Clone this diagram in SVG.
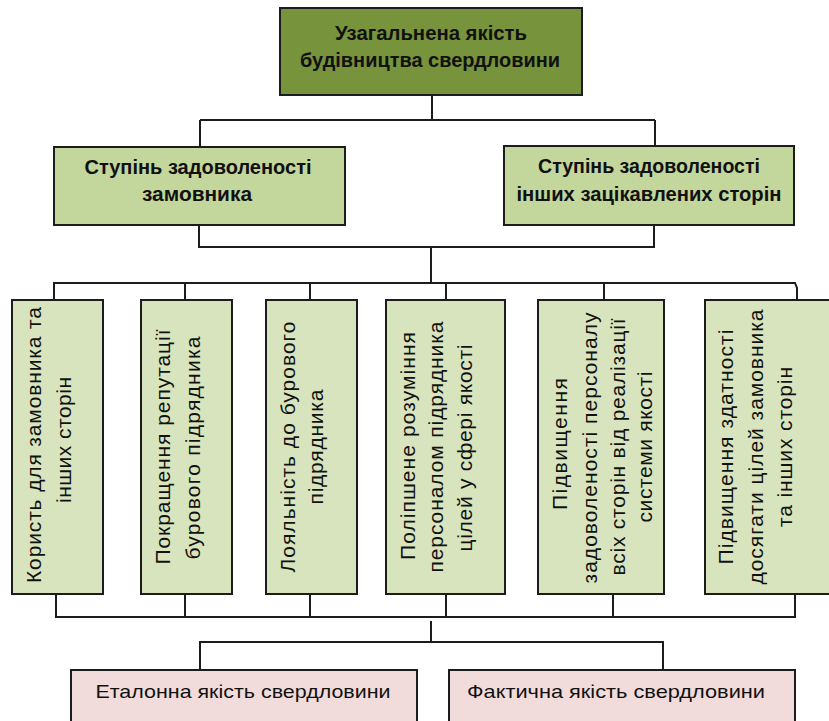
<svg xmlns="http://www.w3.org/2000/svg" width="829" height="721" viewBox="0 0 829 721">
<style>
.box{stroke:#1c1c1c;stroke-width:2}
.top{fill:#77933C}
.mid{fill:#C3D69B}
.leaf{fill:#D7E4BD}
.res{fill:#F2DCDB}
.hb{font-family:"Liberation Sans",Arial,sans-serif;font-weight:bold;font-size:20px;fill:#111;text-anchor:middle}
.hr{font-family:"Liberation Sans",Arial,sans-serif;font-size:19px;fill:#111;text-anchor:middle}
.vt{font-family:"Liberation Sans",Arial,sans-serif;font-size:21px;fill:#111;text-anchor:middle}
.con{fill:none;stroke:#1c1c1c;stroke-width:2}
</style>
<rect width="829" height="721" fill="#fff"/>
<g id="connectors" class="con">
<path d="M432,95 V120 M200,120 H655 M200,120 V147 M655,120 V146"/>
<path d="M199,225 V247 H654 V225 M431,247 V283"/>
<path d="M54,300 V283 H795 L797,288 V300 M185,283 V300 M310,283 V300 M446,283 V300 M604,283 V300"/>
<path d="M56,594 V617 H795 V594 M185,594 V617 M310,594 V617 M446,594 V617 M613,594 V617"/>
<path d="M431,621 V642 M200,670 V642 H663 V670"/>
</g>
<g id="n-root">
<rect class="box top" x="280" y="8" width="302" height="87"/>
<text class="hb" x="431" y="40" textLength="192" lengthAdjust="spacingAndGlyphs">Узагальнена якість</text>
<text class="hb" x="430" y="67" textLength="260" lengthAdjust="spacingAndGlyphs">будівництва свердловини</text>
</g>
<g id="n-customer">
<rect class="box mid" x="54" y="147" width="291" height="78"/>
<text class="hb" x="198" y="174" textLength="227" lengthAdjust="spacingAndGlyphs">Ступінь задоволеності</text>
<text class="hb" x="197" y="201" textLength="110" lengthAdjust="spacingAndGlyphs">замовника</text>
</g>
<g id="n-others">
<rect class="box mid" x="504" y="146" width="290" height="79"/>
<text class="hb" x="649" y="173" textLength="222" lengthAdjust="spacingAndGlyphs">Ступінь задоволеності</text>
<text class="hb" x="649" y="201" textLength="265" lengthAdjust="spacingAndGlyphs">інших зацікавлених сторін</text>
</g>
<g id="n-leaf1">
<rect class="box leaf" x="12" y="300" width="91" height="294"/>
<text class="vt" x="41" y="445" transform="rotate(-90 41 445)" textLength="276">Користь для замовника та</text>
<text class="vt" x="71" y="440" transform="rotate(-90 71 440)" textLength="126">інших сторін</text>
</g>
<g id="n-leaf2">
<rect class="box leaf" x="141" y="300" width="91" height="294"/>
<text class="vt" x="170" y="447" transform="rotate(-90 170 447)" textLength="235">Покращення репутації</text>
<text class="vt" x="200" y="448" transform="rotate(-90 200 448)" textLength="223">бурового підрядника</text>
</g>
<g id="n-leaf3">
<rect class="box leaf" x="266" y="300" width="91" height="294"/>
<text class="vt" x="295" y="447" transform="rotate(-90 295 447)" textLength="251">Лояльність до бурового</text>
<text class="vt" x="323" y="447" transform="rotate(-90 323 447)" textLength="115">підрядника</text>
</g>
<g id="n-leaf4">
<rect class="box leaf" x="386" y="300" width="119" height="294"/>
<text class="vt" x="415" y="446" transform="rotate(-90 415 446)" textLength="228">Поліпшене розуміння</text>
<text class="vt" x="443" y="447" transform="rotate(-90 443 447)" textLength="251">персоналом підрядника</text>
<text class="vt" x="472" y="448" transform="rotate(-90 472 448)" textLength="207">цілей у сфері якості</text>
</g>
<g id="n-leaf5">
<rect class="box leaf" x="538" y="300" width="126" height="294"/>
<text class="vt" x="567" y="444" transform="rotate(-90 567 444)" textLength="132">Підвищення</text>
<text class="vt" x="597" y="448" transform="rotate(-90 597 448)" textLength="271">задоволеності персоналу</text>
<text class="vt" x="625" y="447" transform="rotate(-90 625 447)" textLength="257">всіх сторін від реалізації</text>
<text class="vt" x="652" y="447" transform="rotate(-90 652 447)" textLength="151">системи якості</text>
</g>
<g id="n-leaf6">
<rect class="box leaf" x="705" y="300" width="180" height="294"/>
<text class="vt" x="733" y="447" transform="rotate(-90 733 447)" textLength="235">Підвищення здатності</text>
<text class="vt" x="763" y="447" transform="rotate(-90 763 447)" textLength="275">досягати цілей замовника</text>
<text class="vt" x="792" y="447" transform="rotate(-90 792 447)" textLength="160">та інших сторін</text>
</g>
<g id="n-reference">
<rect class="box res" x="71" y="670" width="346" height="70"/>
<text class="hr" x="243" y="698" textLength="295" lengthAdjust="spacingAndGlyphs">Еталонна якість свердловини</text>
</g>
<g id="n-actual">
<rect class="box res" x="449" y="670" width="346" height="70"/>
<text class="hr" x="616" y="698" textLength="298" lengthAdjust="spacingAndGlyphs">Фактична якість свердловини</text>
</g>
</svg>
